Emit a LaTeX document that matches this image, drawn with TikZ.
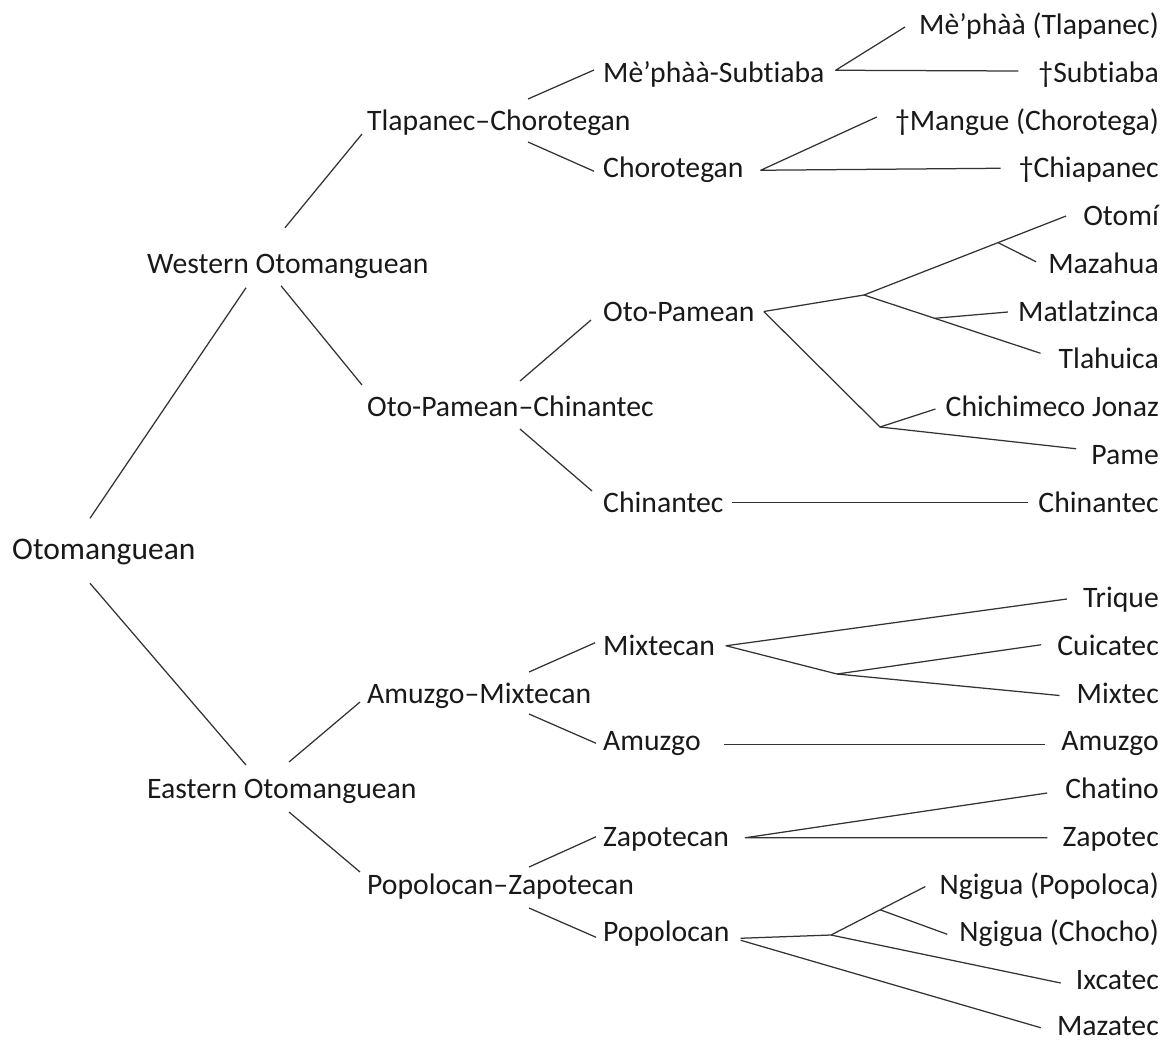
\documentclass[tikz,border=0pt]{standalone}
\usepackage{fontspec}
\setmainfont{Carlito}[Ligatures={NoCommon}]
\usetikzlibrary{calc}
\begin{document}
\begin{tikzpicture}[x=1pt,y=-1pt,
  lbl/.style={inner sep=0pt, text height=19pt, text depth=0pt, text=black!90, font=\fontsize{29.7}{36}\selectfont},
  lft/.style={lbl, anchor=west},
  rgt/.style={lbl, anchor=east},
  ln/.style={line width=1.25pt, draw=black!80, line join=round}]
\useasboundingbox (0,0) rectangle (1169,1042);
% root and first levels
\node[lft, font=\fontsize{31.5}{36}\selectfont] (oto) at (12,550.25) {Otomanguean};
\node[lft] (west) at (147,263.75) {Western Otomanguean};
\node[lft] (east) at (147,789) {Eastern Otomanguean};
\node[lft] (tc) at (367,120.5) {Tlapanec–Chorotegan};
\node[lft] (opc) at (367,407) {Oto-Pamean–Chinantec};
\node[lft] (am) at (367,693.5) {Amuzgo–Mixtecan};
\node[lft] (pz) at (367,884.5) {Popolocan–Zapotecan};
\node[lft] (ms) at (603,72.75) {Mè’phàà-Subtiaba};
\node[lft] (cho) at (603,168.25) {Chorotegan};
\node[lft] (op) at (603,311.5) {Oto-Pamean};
\node[lft] (chin) at (603,502.5) {Chinantec};
\node[lft] (mix) at (603,645.75) {Mixtecan};
\node[lft] (amu) at (603,741.25) {Amuzgo};
\node[lft] (zap) at (603,836.75) {Zapotecan};
\node[lft] (pop) at (603,932.25) {Popolocan};
% leaves
\node[rgt] (r0) at (1159,25) {Mè’phàà (Tlapanec)};
\node[rgt] (r1) at (1159,72.75) {†Subtiaba};
\node[rgt] (r2) at (1159,120.5) {†Mangue (Chorotega)};
\node[rgt] (r3) at (1159,168.25) {†Chiapanec};
\node[rgt] (r4) at (1159,216) {Otomí};
\node[rgt] (r5) at (1159,263.75) {Mazahua};
\node[rgt] (r6) at (1159,311.5) {Matlatzinca};
\node[rgt] (r7) at (1159,359.25) {Tlahuica};
\node[rgt] (r8) at (1159,407) {Chichimeco Jonaz};
\node[rgt] (r9) at (1159,454.75) {Pame};
\node[rgt] (r10) at (1159,502.5) {Chinantec};
\node[rgt] (r11) at (1159,598) {Trique};
\node[rgt] (r12) at (1159,645.75) {Cuicatec};
\node[rgt] (r13) at (1159,693.5) {Mixtec};
\node[rgt] (r14) at (1159,741.25) {Amuzgo};
\node[rgt] (r15) at (1159,789) {Chatino};
\node[rgt] (r16) at (1159,836.75) {Zapotec};
\node[rgt] (r17) at (1159,884.5) {Ngigua (Popoloca)};
\node[rgt] (r18) at (1159,932.25) {Ngigua (Chocho)};
\node[rgt] (r19) at (1159,980) {Ixcatec};
\node[rgt] (r20) at (1159,1026) {Mazatec};
% inner junctions
\coordinate (A) at (864,295);
\coordinate (D) at (880,427);
\coordinate (E) at (837,674);
\coordinate (F) at (831,935);
\coordinate (e4) at ([shift={(-17,0)}]r4.west);
\coordinate (e7) at ([shift={(-18,-6)}]r7.west);
\coordinate (e17) at ([shift={(-14,2)}]r17.west);
\coordinate (B) at ($(A)!0.663!(e4)$);
\coordinate (C) at ($(A)!0.40!(e7)$);
\coordinate (G) at ($(F)!0.52!(e17)$);
% connectors, left part
\draw[ln] ([shift={(78,-32)}]oto.west) -- ([shift={(99,24)}]west.west);
\draw[ln] ([shift={(78,33)}]oto.west) -- ([shift={(99,-24)}]east.west);
\draw[ln] ([shift={(138,-36)}]west.west) -- ([shift={(-5,13.5)}]tc.west);
\draw[ln] ([shift={(134,22)}]west.west) -- ([shift={(-5,-22)}]opc.west);
\draw[ln] ([shift={(142,-27)}]east.west) -- ([shift={(-7,8.5)}]am.west);
\draw[ln] ([shift={(142,23)}]east.west) -- ([shift={(-7,-12.5)}]pz.west);
\draw[ln] ([shift={(161,-21.5)}]tc.west) -- ([shift={(-9,-2.75)}]ms.west);
\draw[ln] ([shift={(161,21.5)}]tc.west) -- ([shift={(-9,3)}]cho.west);
\draw[ln] ([shift={(153,-26)}]opc.west) -- ([shift={(-12,8.5)}]op.west);
\draw[ln] ([shift={(153,22)}]opc.west) -- ([shift={(-11,-11.5)}]chin.west);
\draw[ln] ([shift={(162,-21.5)}]am.west) -- ([shift={(-8,-3)}]mix.west);
\draw[ln] ([shift={(162,20.5)}]am.west) -- ([shift={(-7,2)}]amu.west);
\draw[ln] ([shift={(162,-17.5)}]pz.west) -- ([shift={(-7,0)}]zap.west);
\draw[ln] ([shift={(162,23.5)}]pz.west) -- ([shift={(-7,5)}]pop.west);
% connectors, right part
\draw[ln] ([shift={(-14,2)}]r0.west) -- ([shift={(11,-2.5)}]ms.east) -- ([shift={(-20,-1.75)}]r1.west);
\draw[ln] ([shift={(-18,-3.5)}]r2.west) -- ([shift={(17,2)}]cho.east) -- ([shift={(-18,0)}]r3.west);
\draw[ln] ([shift={(9,0)}]op.east) -- (A) -- (e4);
\draw[ln] (B) -- ([shift={(-12,-2)}]r5.west);
\draw[ln] (A) -- (e7);
\draw[ln] (C) -- ([shift={(-10,0.5)}]r6.west);
\draw[ln] ([shift={(9,0)}]op.east) -- (D) -- ([shift={(-15,-6)}]r9.west);
\draw[ln] (D) -- ([shift={(-10,2)}]r8.west);
\draw[ln] ([shift={(8,0)}]chin.east) -- ([shift={(-10,0)}]r10.west);
\draw[ln] ([shift={(-16,1)}]r11.west) -- ([shift={(11,0)}]mix.east) -- (E) -- ([shift={(-17,2)}]r13.west);
\draw[ln] (E) -- ([shift={(-16,-1)}]r12.west);
\draw[ln] ([shift={(23,3)}]amu.east) -- ([shift={(-16,3)}]r14.west);
\draw[ln] ([shift={(-18,4)}]r15.west) -- ([shift={(16,1)}]zap.east) -- ([shift={(-15,1)}]r16.west);
\draw[ln] ([shift={(11,6)}]pop.east) -- (F) -- (e17);
\draw[ln] (G) -- ([shift={(-12,2)}]r18.west);
\draw[ln] (F) -- ([shift={(-15,3)}]r19.west);
\draw[ln] ([shift={(11,8)}]pop.east) -- ([shift={(-16,1.75)}]r20.west);
\end{tikzpicture}
\end{document}
